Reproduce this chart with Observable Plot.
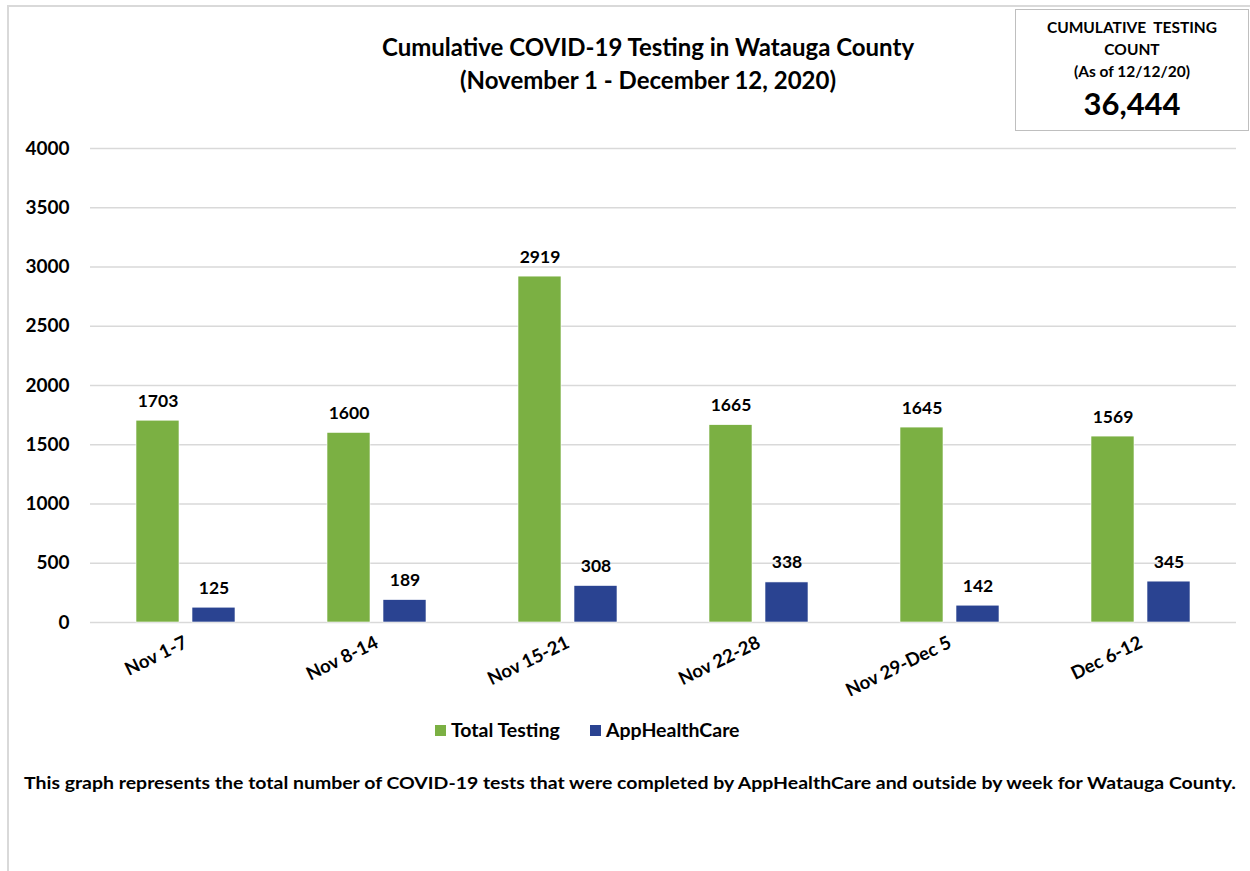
<!DOCTYPE html>
<html>
<head>
<meta charset="utf-8">
<script src="https://cdn.jsdelivr.net/npm/d3@7"></script>
<script src="https://cdn.jsdelivr.net/npm/@observablehq/plot@0.6"></script>
<style>
  html, body { margin: 0; padding: 0; background: #fff; }
  #wrap { position: relative; width: 1250px; height: 871px; overflow: hidden; font-family: Lato, "Open Sans", sans-serif; color: #000; }
  .frame-top { position: absolute; left: 7px; top: 5px; width: 1243px; height: 0; border-top: 2px solid #d9d9d9; }
  .frame-left { position: absolute; left: 7px; top: 5px; width: 0; height: 866px; border-left: 2px solid #d9d9d9; }
  .title { position: absolute; left: 248px; width: 800px; text-align: center; font-weight: bold; font-size: 24px; line-height: 33px; top: 30px; }
  .box { position: absolute; left: 1015px; top: 9px; width: 232px; height: 120px; border: 1px solid #bfbfbf; background: #fff; text-align: center; font-weight: bold; }
  .box .small { font-size: 15.5px; line-height: 22px; }
  .box .big { font-size: 31px; line-height: 36px; margin-top: 3px; }
  #chart { position: absolute; left: 0; top: 0; }
  .legend { position: absolute; top: 718px; left: 0; width: 1250px; font-weight: bold; font-size: 19.5px; }
  .legend span.item { position: absolute; top: 0; white-space: nowrap; }
  .legend i { display: inline-block; width: 11px; height: 11px; margin-right: 5px; vertical-align: 1px; }
  #caption { position: absolute; left: 0; top: 766px; }
</style>
</head>
<body>
<div id="wrap">
  <div class="frame-top"></div>
  <div class="frame-left"></div>
  <div id="chart"></div>
  <div class="title">Cumulative COVID-19 Testing in Watauga County<br>(November 1 - December 12, 2020)</div>
  <div class="box">
    <div class="small" style="margin-top:6px">CUMULATIVE&nbsp; TESTING</div>
    <div class="small">COUNT</div>
    <div class="small">(As of 12/12/20)</div>
    <div class="big" id="count"></div>
  </div>
  <div class="legend" id="legend"></div>
  <svg id="caption" width="1250" height="36"></svg>
</div>
<script>
// ---- Data ----
const weeks = ["Nov 1-7", "Nov 8-14", "Nov 15-21", "Nov 22-28", "Nov 29-Dec 5", "Dec 6-12"];
const seriesNames = ["Total Testing", "AppHealthCare"];
const totalTesting = [1703, 1600, 2919, 1665, 1645, 1569];
const appHealthCare = [125, 189, 308, 338, 142, 345];
const yTicks = [0, 500, 1000, 1500, 2000, 2500, 3000, 3500, 4000];
const cumulativeCount = "36,444";
const seriesColors = ["#7bb043", "#2a4391"];
const captionText = "This graph represents the total  number of COVID-19 tests that were completed by AppHealthCare and outside by week for Watauga County.";

const rows = [];
weeks.forEach((w, i) => {
  rows.push({week: w, series: seriesNames[0], value: totalTesting[i]});
  rows.push({week: w, series: seriesNames[1], value: appHealthCare[i]});
});

document.getElementById("count").textContent = cumulativeCount;

const chart = Plot.plot({
  width: 1250,
  height: 720,
  marginLeft: 90,
  marginRight: 14,
  marginTop: 148,
  marginBottom: 98,
  style: {fontFamily: "Lato, 'Open Sans', sans-serif", fontSize: "18px", fontWeight: "bold", color: "#000", background: "transparent"},
  fx: {domain: weeks, padding: 0, label: null, tickSize: 0, tickPadding: 19, tickRotate: -26},
  x: {domain: seriesNames, axis: null, paddingInner: 0.232, paddingOuter: 0.82},
  y: {domain: [0, 4000], ticks: yTicks, tickSize: 0, tickPadding: 21, tickFormat: d => String(d), label: null},
  color: {domain: seriesNames, range: seriesColors},
  marks: [
    Plot.ruleY(yTicks, {stroke: "#d9d9d9", strokeWidth: 1.5}),
    Plot.barY(rows, {fx: "week", x: "series", y: "value", fill: "series", stroke: "#ffffff", strokeWidth: 0.6}),
    Plot.text(rows, {fx: "week", x: "series", y: "value", text: d => String(d.value), lineAnchor: "bottom", dy: -14, fontSize: 17.5, fontWeight: "bold", fill: "#000"})
  ]
});
chart.querySelectorAll("[aria-label='y-axis tick label']").forEach(g => g.setAttribute("font-size", "19"));
chart.querySelectorAll("[aria-label='fx-axis tick label']").forEach(g => g.setAttribute("font-size", "18.5"));
document.getElementById("chart").appendChild(chart);

// legend
const legend = document.getElementById("legend");
const legendX = [435, 590];
seriesNames.forEach((s, i) => {
  const span = document.createElement("span");
  span.className = "item";
  span.style.left = legendX[i] + "px";
  const sw = document.createElement("i");
  sw.style.background = seriesColors[i];
  span.appendChild(sw);
  span.appendChild(document.createTextNode(s));
  legend.appendChild(span);
});

// caption
const cap = d3.select("#caption");
cap.append("text")
  .attr("x", 24).attr("y", 23)
  .attr("font-family", "Lato, 'Open Sans', sans-serif")
  .attr("font-weight", "bold").attr("font-size", 17)
  .attr("textLength", 1212).attr("lengthAdjust", "spacingAndGlyphs")
  .text(captionText);
</script>
</body>
</html>
